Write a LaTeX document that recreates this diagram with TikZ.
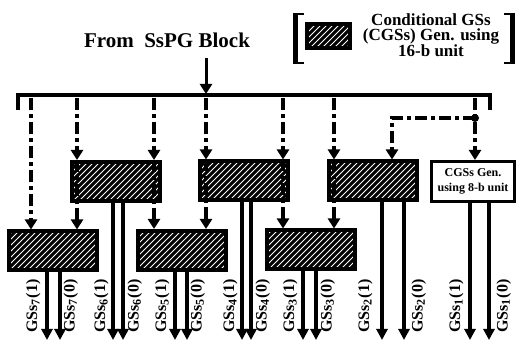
\documentclass[tikz,border=0pt]{standalone}
\usepackage{fontspec}
\setmainfont{Liberation Serif}
\usetikzlibrary{arrows.meta,patterns}

\tikzset{
  cgs/.style={draw,line width=2pt,preaction={fill=black},pattern=north east lines,pattern color=white,
    minimum width=44pt,minimum height=19.5pt,inner sep=0pt},
  cgsb/.style={draw,line width=1.5pt,fill=white,minimum width=41.5pt,minimum height=20pt,inner sep=0pt,
    align=center,font=\bfseries\fontsize{6}{7.5}\selectfont},
  ctl/.style={line width=1.6pt,dash pattern=on 6pt off 2.2pt on 1.6pt off 2.2pt,-{Triangle[width=6pt,length=5pt]}},
  outp/.style={line width=1.6pt,-{Triangle[width=5.5pt,length=5.5pt]}},
  gslbl/.style={rotate=90,inner sep=0pt,font=\bfseries\fontsize{8}{9}\selectfont},
}

\begin{document}
\begin{tikzpicture}[x=0.5pt,y=-0.5pt]
\useasboundingbox (0,0) rectangle (519,346);

% source and bus
\node[font=\bfseries\fontsize{10.5}{12}\selectfont] (src) at (167,40) {From\ \ SsPG Block};
\coordinate (feed) at (206,58);
\coordinate (busin) at (206,94);
\coordinate (busLe) at (18,110);
\coordinate (busL) at (18,95);
\coordinate (busR) at (490,95);
\coordinate (busRe) at (490,110);
\draw[line width=1.5pt,-{Triangle[width=6pt,length=5pt]}] (feed) -- (busin);
\draw[line width=1.6pt] (busLe) -- (busL) -- (busR) -- (busRe);

% legend
\node[cgs,minimum width=21.5pt,minimum height=12pt] (key) at (328.5,36) {};
\fill (293,14) rectangle (298,64);
\draw[line width=1pt] (293,14.5) -- (304,14.5) (293,63.5) -- (304,63.5);
\fill (510,14) rectangle (515,64);
\draw[line width=1pt] (515,14.5) -- (504,14.5) (515,63.5) -- (504,63.5);
\node[align=center,font={\bfseries\fontsize{8.5}{7.8}\selectfont\lineskiplimit=-5pt}] (keytxt) at (431,35)
  {Conditional GSs\\(CGSs) Gen. using\\16-b unit};

% generator blocks
\node[cgs] (gen6) at (115.5,181.5) {};
\node[cgs] (gen4) at (244,181) {};
\node[cgs] (gen2) at (373,181) {};
\node[cgsb] (gen1) at (473,181.5) {CGSs Gen.\\using 8-b unit};
\node[cgs] (gen7) at (53,251) {};
\node[cgs] (gen5) at (181.5,250.5) {};
\node[cgs] (gen3) at (310.5,250) {};

% control taps
\coordinate (ta) at (31,98);
\coordinate (tb) at (77,98);
\coordinate (tc) at (154,98);
\coordinate (td) at (206,98);
\coordinate (te) at (283,98);
\coordinate (tf) at (334,98);
\coordinate (tg) at (475,98);
\coordinate (jn) at (475,118);
\coordinate (jl) at (392,118);

\draw[ctl] (ta) -- (ta |- gen7.north);
\foreach \t/\u/\l in {tb/gen6/gen7, tc/gen6/gen5, td/gen4/gen5, te/gen4/gen3, tf/gen2/gen3} {
  \draw[ctl] (\t) -- (\t |- \u.north);
  \draw[ctl] (\t |- \u.north) -- (\t |- \l.north);
}
\draw[ctl] (tg) -- (tg |- gen1.north);
\draw[ctl] (jn) -- (jl) -- (jl |- gen2.north);
\fill (jn) circle (2pt);

% outputs
\foreach \g/\xa/\xb/\la/\lb in {7/47/60/41/63, 6/113/123/109/127, 5/175/187/170/190,
    4/242/251/238/255, 3/303/316/298/320, 2/382/404/373/411, 1/470/489/464/496} {
  \coordinate (hi\g) at (\xa,340);
  \coordinate (lo\g) at (\xb,340);
  \draw[outp] (hi\g |- gen\g.south) -- (hi\g);
  \draw[outp] (lo\g |- gen\g.south) -- (lo\g);
  \node[gslbl,anchor=south west] (lbh\g) at (\la,333) {GSs\textsubscript{\g}(1)};
  \node[gslbl,anchor=north west] (lbl\g) at (\lb,333) {GSs\textsubscript{\g}(0)};
}
\end{tikzpicture}
\end{document}
